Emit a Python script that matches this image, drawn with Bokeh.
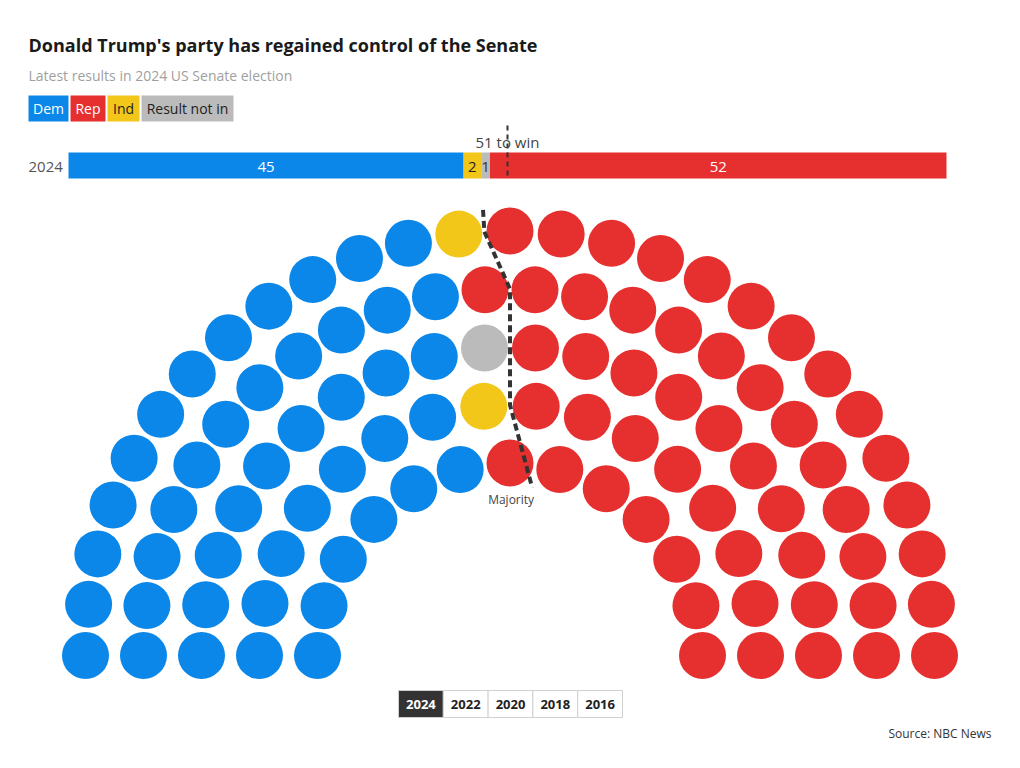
import numpy as np
from bokeh.plotting import figure
from bokeh.models import Range1d, Label, ColumnDataSource
from bokeh.core.properties import value
from bokeh.embed import file_html
from bokeh.resources import INLINE

# ---------------- data ----------------
parties = ["Dem", "Ind", "Result not in", "Rep"]
seats = [45, 2, 1, 52]
party_colors = ["#0A87E8", "#F2C71A", "#BBBBBB", "#E5302F"]
bar_text_colors = ["white", "#222222", "#333333", "white"]
legend_order = ["Dem", "Rep", "Ind", "Result not in"]
legend_text_colors = ["white", "white", "#222222", "#222222"]
row_counts = [27, 24, 20, 16, 13]   # seats per arc, outer to inner
line_after = 50                      # majority line drawn after this many seats
win_text = "51 to win"
years = ["2024", "2022", "2020", "2018", "2016"]
bar_year = "2024"

FONT = "Open Sans"
W, H = 1004, 752
OX, OY = 0, 0   # page offset of the figure

p = figure(width=W, height=H, x_range=Range1d(OX, OX + W), y_range=Range1d(OY + H, OY),
           output_backend="svg", toolbar_location=None, min_border=0,
           x_axis_type=None, y_axis_type=None)
p.outline_line_color = None
p.grid.visible = False
p.background_fill_color = "white"

# ---------------- title / legend ----------------
p.add_layout(Label(x=28, y=44, text="Donald Trump's party has regained control of the Senate",
                   text_font=FONT, text_font_size="18px", text_font_style="bold",
                   text_color="#1a1a1a", text_baseline="middle"))
p.add_layout(Label(x=28, y=75, text="Latest results in 2024 US Senate election",
                   text_font=FONT, text_font_size="14px", text_color="#a0a0a0",
                   text_baseline="middle"))

col_of = dict(zip(parties, party_colors))
leg_w = {"Dem": 40, "Rep": 35, "Ind": 32, "Result not in": 92}
lx = 28
lq = dict(left=[], right=[], color=[])
for name, tc in zip(legend_order, legend_text_colors):
    w = leg_w[name]
    lq["left"].append(lx); lq["right"].append(lx + w); lq["color"].append(col_of[name])
    p.add_layout(Label(x=lx + w / 2, y=108, text=name, text_font=FONT, text_font_size="14px",
                       text_color=tc, text_align="center", text_baseline="middle"))
    lx += w + 2
p.quad(left="left", right="right", top=95, bottom=121, color="color", line_color=None,
       source=ColumnDataSource(lq))

# ---------------- stacked bar ----------------
bx0, bx1 = 68, 946
total = sum(seats)
ppx = (bx1 - bx0) / total
p.extra_x_ranges = {"seats": Range1d(-(bx0 - OX) / ppx, total + (OX + W - bx1) / ppx)}
cum = np.cumsum([0] + seats)
bar = ColumnDataSource(dict(left=cum[:-1], right=cum[1:], mid=(cum[:-1] + cum[1:]) / 2,
                            color=party_colors, tc=bar_text_colors,
                            label=[str(s) for s in seats]))
p.quad(left="left", right="right", top=152, bottom=178, color="color", line_color=None,
       source=bar, x_range_name="seats")
p.text(x="mid", y=166, text="label", text_color="tc", source=bar, x_range_name="seats",
       text_font=value(FONT), text_font_size="15px", text_align="center",
       text_baseline="middle")
p.add_layout(Label(x=28, y=166, text=bar_year, text_font=FONT, text_font_size="15px",
                   text_color="#555555", text_baseline="middle"))
p.segment(x0=[line_after], x1=[line_after], y0=[125], y1=[178], line_color="#333333",
          line_width=2, line_dash="5 4", x_range_name="seats")
p.text(x=[line_after], y=[141], text=[win_text], x_range_name="seats",
       text_font=value(FONT), text_font_size="15px", text_color="#444444",
       text_align="center", text_baseline="middle")

# ---------------- hemicycle ----------------
cx, cy = 509.5, 655
radii = [424.5, 366.5, 308.5, 250.5, 192.5]
pts = []
for r, n in zip(radii, row_counts):
    for i in range(n):
        th = np.pi * i / (n - 1)
        pts.append((th, r, i, n))
pts.sort(key=lambda t: (-round(t[0], 9), t[1]))
seat_color = np.repeat(party_colors, seats)
hx = [cx + r * np.cos(th) for th, r, i, n in pts]
hy = [cy - r * np.sin(th) for th, r, i, n in pts]
p.scatter(x=hx, y=hy, size=47, color=list(seat_color), line_color=None)

# majority line: boundary angle per arc between seat line_after and line_after+1
left_set = pts[:line_after]
bounds = []
for r, n in zip(radii, row_counts):
    k = sum(1 for t in left_set if t[1] == r)      # seats of this arc on the left
    th_left = np.pi * (n - k) / (n - 1)
    th_right = np.pi * (n - k - 1) / (n - 1)
    bounds.append((r, (th_left + th_right) / 2))
ml = [(radii[0] + 22, bounds[0][1])] + bounds[:-1] + [(radii[-1] - 23, bounds[-1][1])]
mx = [cx + r * np.cos(th) for r, th in ml]
my = [cy - r * np.sin(th) for r, th in ml]
p.line(mx, my, line_color="#333333", line_width=4, line_dash="7 4")
p.add_layout(Label(x=mx[-1] - 21, y=my[-1] + 12, text="Majority", text_font=FONT,
                   text_font_size="12px", text_color="#444444", text_align="center",
                   text_baseline="middle"))

# ---------------- year buttons ----------------
bw = 44.8
b0 = 398
yb = dict(left=[b0 + k * bw for k in range(len(years))],
          right=[b0 + (k + 1) * bw for k in range(len(years))],
          fill=["#333333" if y == bar_year else "white" for y in years],
          tc=["white" if y == bar_year else "#222222" for y in years],
          mid=[b0 + (k + 0.5) * bw for k in range(len(years))], label=years)
ysrc = ColumnDataSource(yb)
p.quad(left="left", right="right", top=690, bottom=717, fill_color="fill",
       line_color="#d0d0d0", line_width=1, source=ysrc)
p.text(x="mid", y=704, text="label", text_color="tc", source=ysrc,
       text_font=value(FONT), text_font_size="13px", text_font_style="bold",
       text_align="center", text_baseline="middle")

p.add_layout(Label(x=991, y=733, text="Source: NBC News", text_font=FONT,
                   text_font_size="12px", text_color="#333333", text_align="right",
                   text_baseline="middle"))

open("out.html", "w").write(file_html(p, INLINE))
